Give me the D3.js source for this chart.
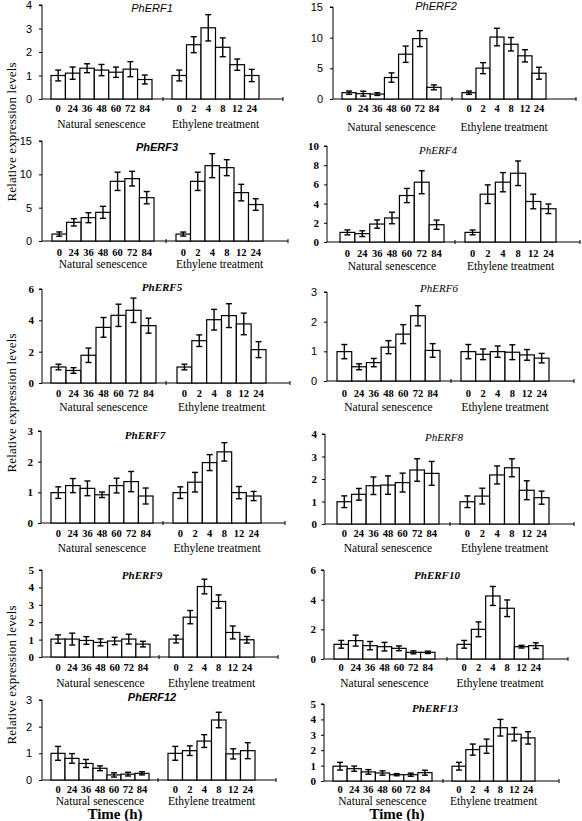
<!DOCTYPE html>
<html><head><meta charset="utf-8">
<script src="https://cdn.jsdelivr.net/npm/d3@7"></script>
<style>body{margin:0;background:#fff}svg{display:block}</style>
</head><body>
<svg id="c" width="582" height="821"></svg>
<script>
const genes = ["PhERF1","PhERF2","PhERF3","PhERF4","PhERF5","PhERF6","PhERF7","PhERF8","PhERF9","PhERF10","PhERF12","PhERF13"];
const natLabels = ["0","24","36","48","60","72","84"];
const ethLabels = ["0","2","4","8","12","24"];
const groupNames = ["Natural senescence","Ethylene treatment"];
const yMaxes = [4,15,15,10,6,3,3,4,5,6,3,5];
const yTickSteps = [1,5,5,2,2,1,1,1,1,2,1,1];
const natMeans = [
  [1.0,1.1,1.31,1.23,1.14,1.27,0.83],
  [1.03,0.87,0.8,3.5,7.3,9.85,1.9],
  [1.04,2.8,3.5,4.3,8.95,9.35,6.5],
  [1.0,0.87,1.87,2.5,4.84,6.23,1.8],
  [1.02,0.8,1.77,3.55,4.32,4.64,3.66],
  [0.99,0.48,0.62,1.14,1.58,2.2,1.03],
  [0.99,1.22,1.13,0.92,1.22,1.35,0.88],
  [0.99,1.32,1.7,1.73,1.84,2.4,2.25],
  [1.03,1.03,0.95,0.84,0.92,1.03,0.74],
  [0.99,1.24,0.9,0.83,0.72,0.45,0.45],
  [1.0,0.81,0.62,0.44,0.19,0.22,0.25],
  [0.96,0.8,0.59,0.52,0.41,0.41,0.54]
];
const natErr = [
  [0.23,0.26,0.19,0.24,0.22,0.32,0.19],
  [0.27,0.4,0.22,0.76,1.33,1.3,0.4],
  [0.32,0.55,0.75,0.9,1.37,1.1,0.92],
  [0.26,0.3,0.43,0.6,0.74,1.2,0.48],
  [0.18,0.18,0.46,0.63,0.71,0.78,0.48],
  [0.24,0.1,0.14,0.22,0.32,0.34,0.23],
  [0.19,0.23,0.24,0.09,0.24,0.33,0.26],
  [0.26,0.26,0.39,0.41,0.42,0.5,0.53],
  [0.24,0.34,0.22,0.2,0.21,0.28,0.16],
  [0.26,0.37,0.28,0.29,0.16,0.1,0.08],
  [0.26,0.18,0.15,0.09,0.08,0.07,0.06],
  [0.25,0.17,0.15,0.14,0.07,0.1,0.16]
];
const ethMeans = [
  [1.0,2.31,3.03,2.2,1.46,1.0],
  [1.03,5.03,10.1,8.93,7.04,4.2],
  [1.04,8.95,11.3,11.0,7.26,5.47],
  [1.0,4.98,6.23,7.16,4.22,3.46],
  [1.02,2.7,4.04,4.3,3.77,2.13],
  [0.99,0.9,0.99,0.97,0.88,0.77],
  [0.99,1.33,1.97,2.32,0.99,0.88],
  [0.99,1.24,2.18,2.5,1.5,1.17],
  [1.03,2.29,4.05,3.19,1.41,0.99],
  [0.99,2.0,4.25,3.42,0.83,0.9],
  [1.0,1.1,1.46,2.25,0.98,1.1],
  [0.96,2.04,2.26,3.46,3.04,2.8]
];
const ethErr = [
  [0.23,0.34,0.56,0.4,0.24,0.26],
  [0.27,0.9,1.43,1.1,1.0,0.97],
  [0.3,1.37,1.8,1.2,1.24,0.87],
  [0.25,0.97,1.0,1.28,0.76,0.5],
  [0.18,0.37,0.66,0.76,0.69,0.51],
  [0.24,0.18,0.19,0.25,0.18,0.16],
  [0.19,0.32,0.26,0.3,0.2,0.15],
  [0.26,0.35,0.4,0.4,0.42,0.29],
  [0.22,0.38,0.42,0.38,0.37,0.19],
  [0.26,0.5,0.64,0.56,0.09,0.19],
  [0.26,0.18,0.24,0.29,0.19,0.3],
  [0.25,0.36,0.46,0.54,0.43,0.4]
];

// layout (positions only)
const layout = [
 {ax:42,xEnd:283,mid:163,y0:99,yTop:5,nat:[51,152],eth:[172,259],tx:152,ty:8,tickY:108,groupY:124,ySans:true,tSans:true,tBold:false},
 {ax:333,xEnd:576,mid:452,y0:99,yTop:7,nat:[342,441],eth:[462,546],tx:436,ty:6,tickY:108,groupY:127,ySans:true,tSans:true,tBold:false},
 {ax:42,xEnd:288,mid:166,y0:241,yTop:141,nat:[52,154],eth:[176,263],tx:157,ty:147,tickY:252,groupY:264,ySans:true,tSans:true,tBold:true},
 {ax:327,xEnd:580,mid:455,y0:242,yTop:146,nat:[340,444],eth:[465,556],tx:438,ty:150,tickY:253,groupY:266,ySans:false,tSans:false,tBold:false},
 {ax:42,xEnd:290,mid:166,y0:383,yTop:289,nat:[51,156],eth:[177,266],tx:162,ty:287,tickY:393,groupY:407,ySans:false,tSans:false,tBold:true},
 {ax:327,xEnd:574,mid:451,y0:381,yTop:292,nat:[337,440],eth:[461,549],tx:439,ty:288,tickY:393,groupY:407,ySans:true,tSans:false,tBold:false},
 {ax:41,xEnd:285,mid:163,y0:523,yTop:431,nat:[51,153],eth:[173,261],tx:145,ty:435,tickY:533,groupY:548,ySans:false,tSans:false,tBold:true},
 {ax:325,xEnd:574,mid:450,y0:524,yTop:434,nat:[337,439],eth:[460,549],tx:444,ty:437,tickY:533,groupY:548,ySans:false,tSans:false,tBold:false},
 {ax:42,xEnd:278,mid:159,y0:657,yTop:570,nat:[51,150],eth:[169,254],tx:142,ty:575,tickY:667,groupY:683,ySans:false,tSans:false,tBold:true},
 {ax:324,xEnd:568,mid:447,y0:659,yTop:570,nat:[334,435],eth:[457,543],tx:437,ty:575,tickY:667,groupY:683,ySans:false,tSans:false,tBold:true},
 {ax:42,xEnd:276,mid:158,y0:780,yTop:700,nat:[51,149],eth:[168,255],tx:152,ty:697,tickY:789,groupY:801,ySans:true,tSans:true,tBold:true},
 {ax:324,xEnd:559,mid:443,y0:781,yTop:704,nat:[333,432],eth:[452,535],tx:435,ty:708,tickY:789,groupY:801,ySans:false,tSans:false,tBold:true}
];
const SERIF = "'Liberation Serif','Times New Roman',serif";
const SANS = "'Liberation Sans',Arial,sans-serif";

const svg = d3.select("#c");

genes.forEach((gene, i) => {
  const L = layout[i];
  const g = svg.append("g");
  const y = d3.scaleLinear().domain([0, yMaxes[i]]).range([L.y0, L.yTop]);
  const xN = d3.scaleBand().domain(natLabels).range(L.nat).padding(0);
  const xE = d3.scaleBand().domain(ethLabels).range(L.eth).padding(0);

  // y axis
  const yAxis = d3.axisLeft(y).tickValues(d3.range(0, yMaxes[i] + 1e-9, yTickSteps[i]))
    .tickSize(3).tickPadding(L.ySans ? 7 : 5).tickFormat(d3.format("d"));
  const ya = g.append("g").attr("transform", `translate(${L.ax},0)`).call(yAxis);
  ya.select(".domain").attr("stroke", "#000").attr("stroke-width", 1).attr("d", `M-3,${L.yTop}H0V${L.y0}`);
  ya.selectAll(".tick line").attr("stroke", "#000");
  ya.selectAll(".tick text").attr("fill", "#000")
    .style("font-family", L.ySans ? SANS : SERIF)
    .style("font-size", "11px")
    .style("font-weight", L.ySans ? "normal" : "bold");

  // x axis line
  g.append("line").attr("x1", L.ax).attr("x2", L.xEnd).attr("y1", L.y0).attr("y2", L.y0)
    .attr("stroke", "#000").attr("stroke-width", 1);
  [L.mid, L.xEnd].forEach(xx => g.append("line").attr("x1", xx).attr("x2", xx)
    .attr("y1", L.y0 - 2).attr("y2", L.y0 + 2).attr("stroke", "#000"));

  const drawGroup = (xs, labels, means, errs, gname) => {
    const bw = xs.bandwidth();
    g.selectAll(null).data(means).enter().append("rect")
      .attr("x", (d, j) => xs(labels[j]))
      .attr("y", d => y(d))
      .attr("width", bw)
      .attr("height", d => L.y0 - y(d))
      .attr("fill", "#fff").attr("stroke", "#000").attr("stroke-width", 1.2);
    const eb = g.selectAll(null).data(means).enter().append("g")
      .attr("transform", (d, j) => `translate(${xs(labels[j]) + bw / 2},0)`);
    eb.append("line").attr("x1", 0).attr("x2", 0)
      .attr("y1", (d, j) => y(d + errs[j])).attr("y2", (d, j) => y(Math.max(0, d - errs[j])))
      .attr("stroke", "#000").attr("stroke-width", 1.4);
    eb.append("line").attr("x1", -3).attr("x2", 3)
      .attr("y1", (d, j) => y(d + errs[j])).attr("y2", (d, j) => y(d + errs[j]))
      .attr("stroke", "#000").attr("stroke-width", 1.4);
    eb.append("line").attr("x1", -3).attr("x2", 3)
      .attr("y1", (d, j) => y(Math.max(0, d - errs[j]))).attr("y2", (d, j) => y(Math.max(0, d - errs[j])))
      .attr("stroke", "#000").attr("stroke-width", 1.4);
    // tick labels
    g.selectAll(null).data(labels).enter().append("text")
      .attr("x", d => xs(d) + bw / 2).attr("y", L.tickY)
      .attr("text-anchor", "middle").attr("dominant-baseline", "central")
      .style("font-family", SERIF).style("font-size", "10.5px").style("font-weight", "bold")
      .text(d => d);
    const r = xs.range();
    g.append("text").attr("x", (r[0] + r[1]) / 2).attr("y", L.groupY)
      .attr("text-anchor", "middle").attr("dominant-baseline", "central")
      .style("font-family", SERIF).style("font-size", "11.5px")
      .text(gname);
  };
  drawGroup(xN, natLabels, natMeans[i], natErr[i], groupNames[0]);
  drawGroup(xE, ethLabels, ethMeans[i], ethErr[i], groupNames[1]);

  // title
  g.append("text").attr("x", L.tx).attr("y", L.ty)
    .attr("text-anchor", "middle").attr("dominant-baseline", "central")
    .style("font-family", L.tSans ? SANS : SERIF).style("font-style", "italic")
    .style("font-weight", L.tBold ? "bold" : "normal").style("font-size", "11px")
    .text(gene);
});

// y-axis titles
const yTitle = "Relative expression levels";
[132, 403, 675].forEach(cy => {
  svg.append("text").attr("transform", `translate(11,${cy}) rotate(-90)`)
    .attr("text-anchor", "middle").attr("dominant-baseline", "central")
    .attr("textLength", 139).attr("lengthAdjust", "spacing")
    .style("font-family", SERIF).style("font-size", "13px").text(yTitle);
});
// x-axis titles
const xTitle = "Time (h)";
[115, 397].forEach(cx => {
  svg.append("text").attr("x", cx).attr("y", 814)
    .attr("text-anchor", "middle").attr("dominant-baseline", "central")
    .style("font-family", SERIF).style("font-size", "15px").style("font-weight", "bold").text(xTitle);
});
</script>
</body></html>
